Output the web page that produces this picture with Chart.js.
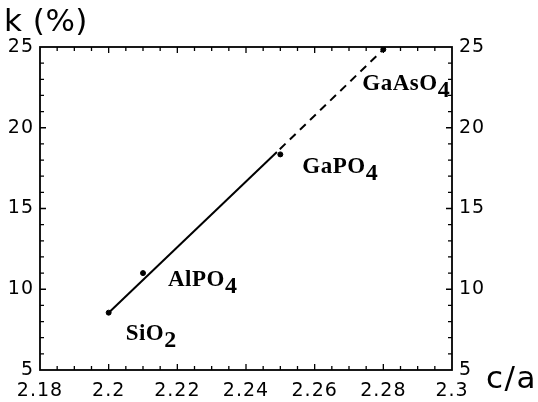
<!DOCTYPE html>
<html>
<head>
<meta charset="utf-8">
<script src="https://cdn.jsdelivr.net/npm/chart.js@4/dist/chart.umd.min.js"></script>
<style>
html,body{margin:0;padding:0;background:#fff;}
#wrap{position:relative;width:538px;height:402px;}
</style>
</head>
<body>
<div id="wrap"><canvas id="c" width="538" height="402"></canvas></div>
<script>
// ---- data ----
const compounds = ['SiO2', 'AlPO4', 'GaPO4', 'GaAsO4'];
const labelMain = ['SiO', 'AlPO', 'GaPO', 'GaAsO'];
const labelSub = ['2', '4', '4', '4'];
const caValues = [2.20, 2.21, 2.25, 2.28];
const kValues = [8.55, 11.0, 18.35, 24.85];
const fitSolidCa = [2.20, 2.249];
const fitSolidK = [8.55, 18.5];
const fitDashedCa = [2.249, 2.28];
const fitDashedK = [18.5, 24.85];
const xTickValues = [2.18, 2.20, 2.22, 2.24, 2.26, 2.28, 2.30];
const xTickLabels = ['2.18', '2.2', '2.22', '2.24', '2.26', '2.28', '2.3'];
const yTickValues = [5, 10, 15, 20, 25];
const yTickLabels = ['5', '10', '15', '20', '25'];
const xMinorStep = 0.005;
const yMinorStep = 1;

// label offsets (pixels from the point), styling only
const labelOffsets = [[17, 27], [25, 13], [22, 19], [-21, 41]];

const toXY = (xs, ys) => xs.map((x, i) => ({x: x, y: ys[i]}));

const frameAndTicks = {
  id: 'frameAndTicks',
  beforeDraw(chart) {
    chart.ctx.letterSpacing = '1px';
  },
  afterDraw(chart) {
    const ctx = chart.ctx;
    const a = chart.chartArea;
    const xs = chart.scales.x, ys = chart.scales.y;
    ctx.save();
    ctx.letterSpacing = '0px';
    ctx.strokeStyle = '#000';
    ctx.lineWidth = 1.8;
    ctx.strokeRect(a.left, a.top, a.right - a.left, a.bottom - a.top);
    ctx.lineWidth = 1.3;
    ctx.beginPath();
    const nx = Math.round((xs.max - xs.min) / xMinorStep);
    for (let i = 1; i < nx; i++) {
      const v = xs.min + i * xMinorStep;
      const px = xs.getPixelForValue(v);
      const len = (i % 4 === 0) ? 6 : 4;
      ctx.moveTo(px, a.bottom); ctx.lineTo(px, a.bottom - len);
      ctx.moveTo(px, a.top); ctx.lineTo(px, a.top + len);
    }
    const ny = Math.round((ys.max - ys.min) / yMinorStep);
    for (let i = 1; i < ny; i++) {
      const v = ys.min + i * yMinorStep;
      const py = ys.getPixelForValue(v);
      const len = (i % 5 === 0) ? 6 : 4;
      ctx.moveTo(a.left, py); ctx.lineTo(a.left + len, py);
      ctx.moveTo(a.right, py); ctx.lineTo(a.right - len, py);
    }
    ctx.stroke();

    // axis titles
    ctx.fillStyle = '#000';
    ctx.textBaseline = 'alphabetic';
    ctx.textAlign = 'left';
    ctx.font = '31px "DejaVu Sans"';
    ctx.letterSpacing = '0.5px';
    ctx.fillText('k (%)', 4, 31);
    ctx.letterSpacing = '1.5px';
    ctx.fillText('c/a', 486, 388);

    // compound labels
    for (let i = 0; i < compounds.length; i++) {
      const px = xs.getPixelForValue(caValues[i]) + labelOffsets[i][0];
      const py = ys.getPixelForValue(kValues[i]) + labelOffsets[i][1];
      ctx.font = 'bold 23px "Liberation Serif"';
      ctx.letterSpacing = '0.5px';
      ctx.fillText(labelMain[i], px, py);
      const w = ctx.measureText(labelMain[i]).width;
      ctx.font = 'bold 24px "Liberation Serif"';
      ctx.letterSpacing = '0px';
      ctx.fillText(labelSub[i], px + w, py + 7);
    }
    ctx.restore();
  }
};

const tickFont = {family: '"DejaVu Sans"', size: 19};

new Chart(document.getElementById('c'), {
  type: 'scatter',
  data: {
    datasets: [
      {
        type: 'line',
        data: toXY(fitSolidCa, fitSolidK),
        borderColor: '#000',
        borderWidth: 2,
        pointRadius: 0,
        fill: false
      },
      {
        type: 'line',
        data: toXY(fitDashedCa, fitDashedK),
        borderColor: '#000',
        borderWidth: 2,
        borderDash: [8, 6],
        borderDashOffset: 10,
        pointRadius: 0,
        fill: false
      },
      {
        data: toXY(caValues, kValues),
        backgroundColor: '#000',
        borderColor: '#000',
        pointRadius: 2.5,
        showLine: false
      }
    ]
  },
  options: {
    responsive: false,
    animation: false,
    devicePixelRatio: 1,
    layout: {padding: {top: 47, left: 0, right: 0, bottom: 0}},
    plugins: {legend: {display: false}, tooltip: {enabled: false}, title: {display: false}},
    scales: {
      x: {
        type: 'linear', position: 'bottom', min: 2.18, max: 2.30,
        grid: {display: false, drawTicks: false},
        border: {display: false},
        afterBuildTicks: s => { s.ticks = xTickValues.map(v => ({value: v})); },
        afterFit: s => { s.height = 32; },
        ticks: {
          font: tickFont, color: '#000', padding: 10, maxRotation: 0, autoSkip: false,
          callback: (v, i) => xTickLabels[i]
        }
      },
      y: {
        type: 'linear', position: 'left', min: 5, max: 25,
        grid: {display: false, drawTicks: false},
        border: {display: false},
        afterBuildTicks: s => { s.ticks = yTickValues.map(v => ({value: v})); },
        afterFit: s => { s.width = 40; },
        ticks: {font: tickFont, color: '#000', padding: 6, callback: (v, i) => yTickLabels[i]}
      },
      y2: {
        type: 'linear', position: 'right', min: 5, max: 25,
        grid: {display: false, drawTicks: false},
        border: {display: false},
        afterBuildTicks: s => { s.ticks = yTickValues.map(v => ({value: v})); },
        afterFit: s => { s.width = 86; },
        ticks: {font: tickFont, color: '#000', padding: 7, callback: (v, i) => yTickLabels[i]}
      }
    }
  },
  plugins: [frameAndTicks]
});
</script>
</body>
</html>
